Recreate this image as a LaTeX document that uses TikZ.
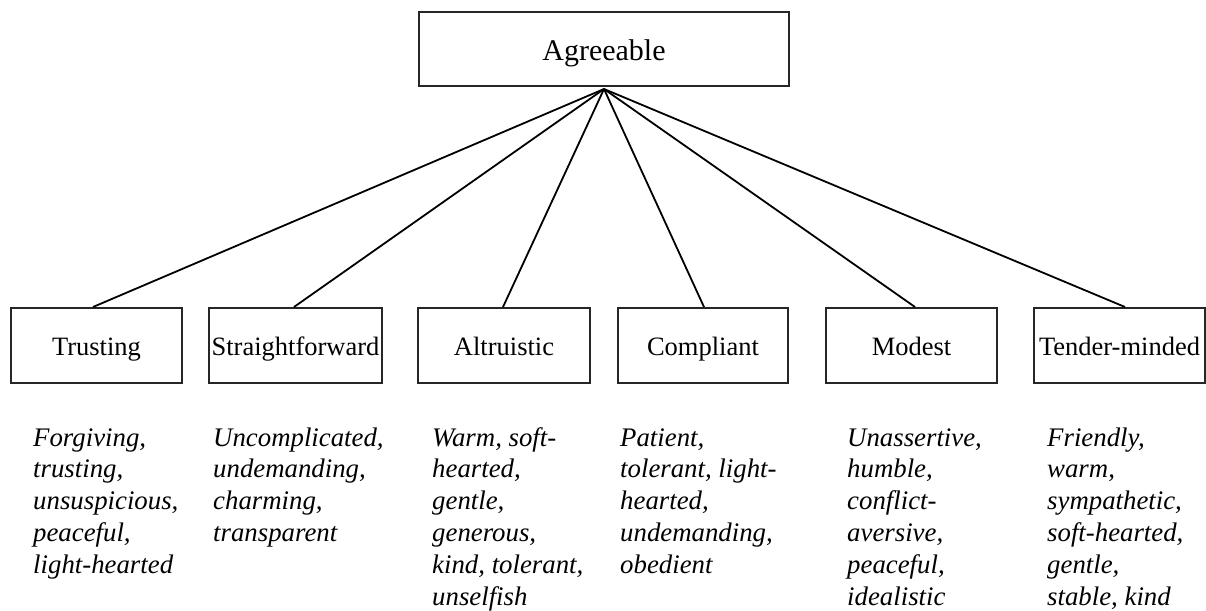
\documentclass[tikz,border=0pt]{standalone}
\usepackage{fontspec}
\setmainfont{Liberation Serif}
\begin{document}
\begin{tikzpicture}[x=1pt,y=-1pt,
  facet/.style={draw=black!85, line width=2pt, minimum width=171pt,
    minimum height=75pt, inner sep=0pt, text height=25pt, text depth=6pt,
    font=\fontsize{26.5}{31}\selectfont},
  topbox/.style={draw=black!85, line width=2pt, minimum width=370pt,
    minimum height=74pt, inner sep=0pt, text height=29pt, text depth=7pt,
    font=\fontsize{30}{36}\selectfont},
  link/.style={line width=1.8pt, black},
  adjectives/.style={anchor=base west, inner sep=0pt,
    font=\fontsize{26.8}{31.8}\selectfont\itshape}]
\useasboundingbox (0,0) rectangle (1206,610);

% factor and facets
\node[topbox] (agree) at (604,49) {Agreeable};
\coordinate (hub) at (604,89);

\node[facet] (trust) at (96.5,345.5) {Trusting};
\node[facet, minimum width=173pt] (straight) at (295.5,345.5) {Straightforward};
\node[facet, minimum width=172pt] (altru) at (504,345.5) {Altruistic};
\node[facet, minimum width=170pt] (compl) at (703,345.5) {Compliant};
\node[facet] (modest) at (911.5,345.5) {Modest};
\node[facet] (tender) at (1119.5,345.5) {Tender-minded};

% connectors from the factor to every facet
\draw[link] (hub) -- ([xshift=-3.5pt]trust.north);
\draw[link] (hub) -- ([xshift=-1.5pt]straight.north);
\draw[link] (hub) -- ([xshift=-1pt]altru.north);
\draw[link] (hub) -- ([xshift=1pt]compl.north);
\draw[link] (hub) -- ([xshift=3.5pt]modest.north);
\draw[link] (hub) -- ([xshift=5.5pt]tender.north);

% adjective lists under the facets
\node[adjectives] (adjtrust) at (33,446) {\begin{tabular}[t]{@{}l@{}}
  Forgiving,\\ trusting,\\ unsuspicious,\\ peaceful,\\ light-hearted\end{tabular}};
\node[adjectives] (adjstraight) at (213,446) {\begin{tabular}[t]{@{}l@{}}
  Uncomplicated,\\ undemanding,\\ charming,\\ transparent\end{tabular}};
\node[adjectives] (adjaltru) at (432,446) {\begin{tabular}[t]{@{}l@{}}
  Warm, soft-\\ hearted,\\ gentle,\\ generous,\\ kind, tolerant,\\ unselfish\end{tabular}};
\node[adjectives] (adjcompl) at (620,446) {\begin{tabular}[t]{@{}l@{}}
  Patient,\\ tolerant, light-\\ hearted,\\ undemanding,\\ obedient\end{tabular}};
\node[adjectives] (adjmodest) at (847,446) {\begin{tabular}[t]{@{}l@{}}
  Unassertive,\\ humble,\\ conflict-\\ aversive,\\ peaceful,\\ idealistic\end{tabular}};
\node[adjectives] (adjtender) at (1047,446) {\begin{tabular}[t]{@{}l@{}}
  Friendly,\\ warm,\\ sympathetic,\\ soft-hearted,\\ gentle,\\ stable, kind\end{tabular}};
\end{tikzpicture}
\end{document}
